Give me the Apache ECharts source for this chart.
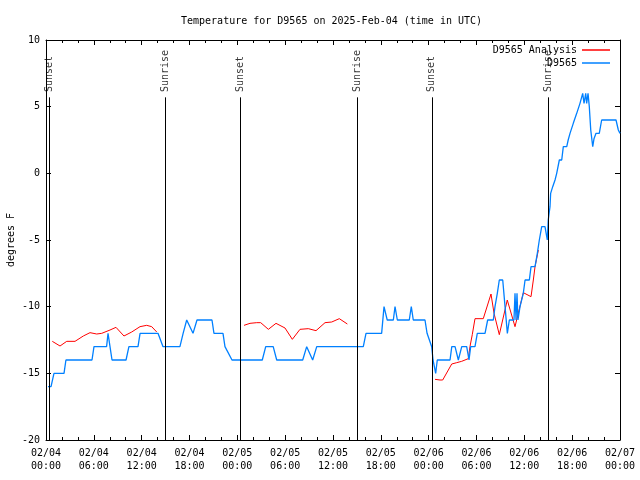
<!DOCTYPE html>
<html><head><meta charset="utf-8">
<script src="https://cdn.jsdelivr.net/npm/echarts@6/dist/echarts.min.js"></script>
<style>html,body{margin:0;padding:0;background:#fff}#c{width:640px;height:480px}</style>
</head><body><div id="c"></div>
<script>
// hours since 2025-02-04 00:00 UTC
const blueHours = [0.25,0.63,1.0,2.26,2.5,5.77,6.02,7.6,7.78,8.28,
  10.04,10.4,11.54,11.8,14.05,14.68,16.8,17.2,17.65,18.44,
  18.94,20.82,21.07,22.2,22.45,23.33,23.58,27.13,27.56,28.5,
  28.94,32.2,32.7,33.45,33.96,39.8,40.14,42.1,42.4,42.8,
  43.57,43.78,44.07,45.57,45.82,46.07,47.54,47.8,48.38,48.55,
  48.88,49.08,50.68,50.9,51.31,51.72,52.15,52.77,53.06,53.27,
  53.81,54.1,55.07,55.4,56.11,56.32,56.61,56.86,57.29,57.58,
  57.87,58.12,58.7,58.83,58.96,59.08,59.2,59.46,59.87,60.09,
  60.63,60.84,61.34,61.63,61.88,62.18,62.59,62.88,63.0,63.22,
  63.3,63.56,63.85,64.06,64.39,64.69,64.89,65.32,65.5,65.73,
  66.14,66.57,66.98,67.32,67.49,67.7,67.82,67.99,68.15,68.33,
  68.58,68.74,68.99,69.4,69.7,71.5,71.79,72.0];
const blueValues = [-16,-16,-15,-15,-14,-14,-13,-13,-12,-14,
  -14,-13,-13,-12,-12,-13,-13,-12,-11,-12,
  -11,-11,-12,-12,-13,-14,-14,-14,-13,-13,
  -14,-14,-13,-14,-13,-13,-12,-12,-10,-11,
  -11,-10,-11,-11,-10,-11,-11,-12,-13,-14,
  -15,-14,-14,-13,-13,-14,-13,-13,-14,-13,
  -13,-12,-12,-11,-11,-10,-9,-8,-8,-10,
  -12,-11,-11,-9,-11,-9,-11,-10,-9,-8,
  -8,-7,-7,-6,-5,-4,-4,-5,-3.5,-2.5,
  -1.5,-1,-0.5,0,1,1,2,2,2.5,3,
  3.75,4.5,5.25,6,5.25,6,5.25,6,5,3.25,
  2,2.6,3,3,4,4,3.25,3];
const redHours = [0.79,1.76,2.6,3.64,4.68,5.52,6.36,6.99,8.03,8.78,9.78,10.75,11.79,12.63,13.26,13.89,
  19.0,
  24.84,25.59,26.43,26.93,27.89,28.85,29.98,30.9,31.86,32.9,33.87,35.0,35.84,36.79,37.8,
  43.0,
  48.8,49.42,49.76,50.89,51.52,52.14,52.97,53.18,53.47,53.81,54.85,55.82,56.2,56.86,57.86,58.83,59.87,60.84,61.13,61.34,61.76];
const redValues = [-12.6,-12.95,-12.6,-12.6,-12.2,-11.95,-12.05,-12,-11.75,-11.55,-12.2,-11.9,-11.5,-11.4,-11.5,-11.9,
  null,
  -11.4,-11.25,-11.2,-11.2,-11.7,-11.25,-11.6,-12.45,-11.7,-11.65,-11.8,-11.2,-11.15,-10.9,-11.3,
  null,
  -15.45,-15.5,-15.5,-14.3,-14.2,-14.1,-13.9,-13,-12.1,-10.9,-10.9,-9.05,-10.5,-12.1,-9.5,-11.5,-8.95,-9.25,-8,-7,-5.75];
const sunHours = [0.38, 15.0, 24.33, 39.0, 48.4, 62.97];
const sunLabels = ['Sunset','Sunrise','Sunset','Sunrise','Sunset','Sunrise'];
const seriesNames = ['D9565 Analysis','D9565'];
const titleText = 'Temperature for D9565 on 2025-Feb-04 (time in UTC)';
const yName = 'degrees F';

const FONT = 'DejaVu Sans Mono';
function pad(n){return (n<10?'0':'')+n;}
function fmtHour(v){
  const d = Math.floor(v/24 + 1e-9);
  const h = Math.round(v - 24*d);
  return '02/' + pad(4+d) + '\n' + pad(h) + ':00';
}
const axisCommon = {
  axisLine:{show:true,onZero:false,lineStyle:{color:'#000',width:1}},
  axisTick:{show:true,inside:true,length:5,lineStyle:{color:'#000',width:1}},
  splitLine:{show:false}
};
const legendCommon = {padding:0,align:'right',itemWidth:28,itemHeight:1.5,icon:'rect',
  textStyle:{fontFamily:FONT,fontSize:10,color:'#000'}};
const chart = echarts.init(document.getElementById('c'), null, {renderer:'canvas'});
chart.setOption({
  animation:false,
  backgroundColor:'#fff',
  title:{text:titleText,left:181,top:16,padding:0,
    textStyle:{fontFamily:FONT,fontSize:10,fontWeight:'normal',color:'#000'}},
  legend:[
    Object.assign({data:[seriesNames[0]],right:30,top:45}, legendCommon),
    Object.assign({data:[seriesNames[1]],right:30,top:58}, legendCommon)
  ],
  grid:{left:46,right:20,top:40,bottom:40,containLabel:false,outerBoundsMode:'none'},
  xAxis:[
    Object.assign({type:'value',min:0,max:72,interval:6,position:'bottom',
      minorTick:{show:true,splitNumber:3,length:3,lineStyle:{color:'#000'}},
      axisLabel:{formatter:fmtHour,color:'#000',fontFamily:FONT,fontSize:10,lineHeight:13,margin:7}}, axisCommon),
    Object.assign({type:'value',min:0,max:72,interval:6,position:'top',
      minorTick:{show:true,splitNumber:3,length:3,lineStyle:{color:'#000'}},
      axisLabel:{show:false}}, axisCommon)
  ],
  yAxis:[
    Object.assign({type:'value',min:-20,max:10,interval:5,position:'left',
      name:yName,nameLocation:'middle',nameGap:30,nameRotate:90,nameMoveOverlap:false,
      nameTextStyle:{fontFamily:FONT,fontSize:10,color:'#000'},
      axisLabel:{color:'#000',fontFamily:FONT,fontSize:10,margin:6}}, axisCommon),
    Object.assign({type:'value',min:-20,max:10,interval:5,position:'right',
      axisLabel:{show:false}}, axisCommon)
  ],
  series:[
    {name:'sun',type:'scatter',xAxisIndex:0,yAxisIndex:0,silent:true,
      symbolSize:0,itemStyle:{color:'rgba(0,0,0,0)'},
      data:sunHours.map(t=>[t,6.1]),
      label:{show:true,formatter:p=>sunLabels[p.dataIndex],rotate:90,position:[0,0],
        align:'left',verticalAlign:'middle',fontFamily:FONT,fontSize:10,color:'#000'},
      markLine:{silent:true,symbol:'none',animation:false,
        lineStyle:{color:'#000',width:1,type:'solid'},label:{show:false},
        data:sunHours.map(t=>[{coord:[t,-20]},{coord:[t,5.7]}])}
    },
    {name:seriesNames[0],type:'line',symbol:'none',showSymbol:false,connectNulls:false,
      color:'#ff0000',lineStyle:{color:'#ff0000',width:1},
      data:redHours.map((t,i)=>[t, redValues[i]===null?'-':redValues[i]])},
    {name:seriesNames[1],type:'line',symbol:'none',showSymbol:false,
      color:'#0080ff',lineStyle:{color:'#0080ff',width:1.3},
      data:blueHours.map((t,i)=>[t, blueValues[i]])}
  ]
});
</script></body></html>
